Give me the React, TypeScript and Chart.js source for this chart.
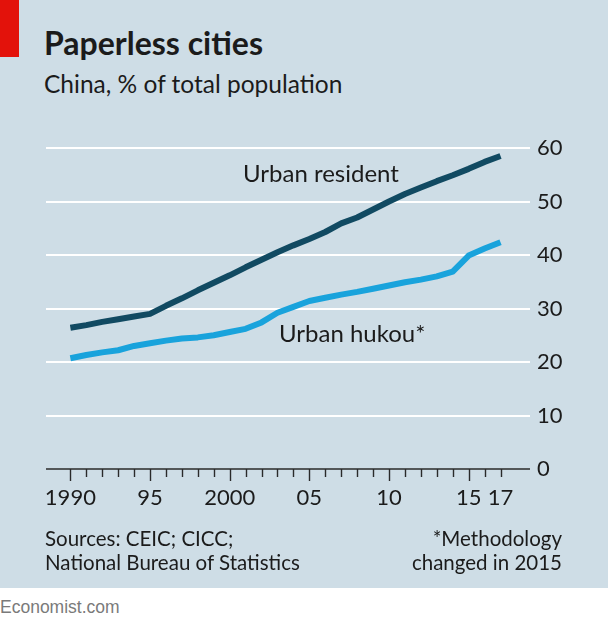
import React, { useEffect, useRef } from 'react';
import { Chart, registerables } from 'chart.js';

Chart.register(...registerables);

// ---------- data ----------
const years = [
  1990, 1991, 1992, 1993, 1994, 1995, 1996, 1997, 1998, 1999,
  2000, 2001, 2002, 2003, 2004, 2005, 2006, 2007, 2008, 2009,
  2010, 2011, 2012, 2013, 2014, 2015, 2016, 2017,
];
const urbanResident = [
  26.4, 26.9, 27.5, 28.0, 28.5, 29.0, 30.5, 31.9, 33.4, 34.8,
  36.2, 37.7, 39.1, 40.5, 41.8, 43.0, 44.3, 45.9, 47.0, 48.5,
  50.0, 51.4, 52.6, 53.8, 54.9, 56.1, 57.4, 58.5,
];
const urbanHukou = [
  20.7, 21.3, 21.8, 22.2, 23.0, 23.5, 24.0, 24.4, 24.6, 25.0,
  25.6, 26.2, 27.4, 29.2, 30.3, 31.4, 32.0, 32.6, 33.1, 33.7,
  34.3, 34.9, 35.4, 36.0, 36.9, 39.9, 41.2, 42.4,
];
const labelYears = [1990, 1995, 2000, 2005, 2010, 2015, 2017];
const labelTexts = ['1990', '95', '2000', '05', '10', '15', '17'];
const majorTickYears = [1990, 1995, 2000, 2005, 2010, 2015];
const yTicks = [0, 10, 20, 30, 40, 50, 60];

// ---------- style ----------
const BG = '#cedde6';
const DARK = '#114a62';
const CYAN = '#19a3dc';
const TEXT = '#1b1b1b';
const FONT = 'Lato, "Open Sans", sans-serif';

const axisTicksPlugin = {
  id: 'axisTicks',
  beforeDatasetsDraw(chart: any) {
    const { ctx, chartArea, scales } = chart;
    const x = scales.x;
    const y = scales.y;
    const y0 = y.getPixelForValue(0);
    ctx.save();
    ctx.strokeStyle = '#2a2a2a';
    ctx.lineWidth = 1.5;
    ctx.beginPath();
    ctx.moveTo(chartArea.left, y0);
    ctx.lineTo(chartArea.right, y0);
    ctx.stroke();
    ctx.lineWidth = 1.4;
    years.forEach((yr) => {
      const px = Math.round(x.getPixelForValue(yr)) + 0.5;
      const len = majorTickYears.includes(yr) ? 12 : 8;
      ctx.beginPath();
      ctx.moveTo(px, y0);
      ctx.lineTo(px, y0 + len);
      ctx.stroke();
    });
    ctx.restore();
  },
};

function LineChart() {
  const ref = useRef<HTMLCanvasElement | null>(null);
  useEffect(() => {
    if (!ref.current) return;
    const chart = new Chart(ref.current, {
      type: 'line',
      data: {
        datasets: [
          {
            label: 'Urban resident',
            data: years.map((yr, i) => ({ x: yr, y: urbanResident[i] })),
            borderColor: DARK,
            borderWidth: 6,
            pointRadius: 0,
            tension: 0,
            borderCapStyle: 'butt',
            borderJoinStyle: 'round',
            clip: false,
          },
          {
            label: 'Urban hukou*',
            data: years.map((yr, i) => ({ x: yr, y: urbanHukou[i] })),
            borderColor: CYAN,
            borderWidth: 6,
            pointRadius: 0,
            tension: 0,
            borderCapStyle: 'butt',
            borderJoinStyle: 'round',
            clip: false,
          },
        ],
      },
      options: {
        responsive: false,
        animation: false,
        events: [],
        layout: { padding: { left: 46, top: 148, right: 0, bottom: 0 } },
        plugins: { legend: { display: false }, tooltip: { enabled: false } },
        scales: {
          x: {
            type: 'linear',
            min: 1988.47,
            max: 2018.85,
            afterBuildTicks: (s: any) => {
              s.ticks = labelYears.map((v) => ({ value: v }));
            },
            afterFit: (s: any) => {
              s.height = 119;
            },
            grid: { display: false, drawTicks: false },
            border: { display: false },
            ticks: {
              autoSkip: false,
              maxRotation: 0,
              padding: 16,
              color: TEXT,
              font: { family: FONT, size: 22 },
              callback: (v: any) => {
                const i = labelYears.indexOf(Number(v));
                return i >= 0 ? labelTexts[i] : '';
              },
            },
          },
          y: {
            position: 'right',
            min: 0,
            max: 60,
            afterBuildTicks: (s: any) => {
              s.ticks = yTicks.map((v) => ({ value: v }));
            },
            afterFit: (s: any) => {
              s.width = 78;
            },
            grid: {
              drawTicks: false,
              lineWidth: 2,
              color: (c: any) => (c.tick && c.tick.value === 0 ? 'rgba(0,0,0,0)' : '#ffffff'),
            },
            border: { display: false },
            ticks: {
              padding: 7,
              color: TEXT,
              font: { family: FONT, size: 22 },
            },
          },
        },
      },
      plugins: [axisTicksPlugin],
    } as any);
    return () => chart.destroy();
  }, []);
  return (
    <canvas
      ref={ref}
      width={608}
      height={588}
      style={{ position: 'absolute', left: 0, top: 0, width: 608, height: 588 }}
    />
  );
}

export default function App() {
  const abs = (o: any) => ({ position: 'absolute' as const, whiteSpace: 'nowrap' as const, ...o });
  return (
    <div style={{ position: 'absolute', left: 0, top: 0, width: 608, height: 625, background: '#fff', overflow: 'hidden' }}>
      <div style={{ position: 'absolute', left: 0, top: 0, width: 608, height: 588, background: BG }}>
        <div style={abs({ left: 0, top: 0, width: 19, height: 57, background: '#e3120b' })} />
        <div style={abs({ left: 44, top: 26.6, fontFamily: FONT, fontWeight: 700, fontSize: 32, lineHeight: 1, color: TEXT })}>
          Paperless cities
        </div>
        <div style={abs({ left: 44, top: 72.4, fontFamily: FONT, fontSize: 24.5, lineHeight: 1, color: TEXT })}>
          China, % of total population
        </div>
        <LineChart />
        <div style={abs({ left: 243, top: 160.7, fontFamily: FONT, fontSize: 24, lineHeight: 1, color: TEXT })}>
          Urban resident
        </div>
        <div style={abs({ left: 279, top: 321, fontFamily: FONT, fontSize: 24, lineHeight: 1, color: TEXT })}>
          Urban hukou*
        </div>
        <div style={abs({ left: 45, top: 525.5, fontFamily: FONT, fontSize: 20.5, lineHeight: '24px', color: TEXT })}>
          Sources: CEIC; CICC;
          <br />
          National Bureau of Statistics
        </div>
        <div style={abs({ right: 46, top: 525.5, fontFamily: FONT, fontSize: 20.5, lineHeight: '24px', color: TEXT, textAlign: 'right' })}>
          *Methodology
          <br />
          changed in 2015
        </div>
      </div>
      <div style={abs({ left: 0, top: 599, fontFamily: '"Liberation Sans", Arial, sans-serif', fontSize: 17.5, lineHeight: 1, color: '#7a7a7a' })}>
        Economist.com
      </div>
    </div>
  );
}
